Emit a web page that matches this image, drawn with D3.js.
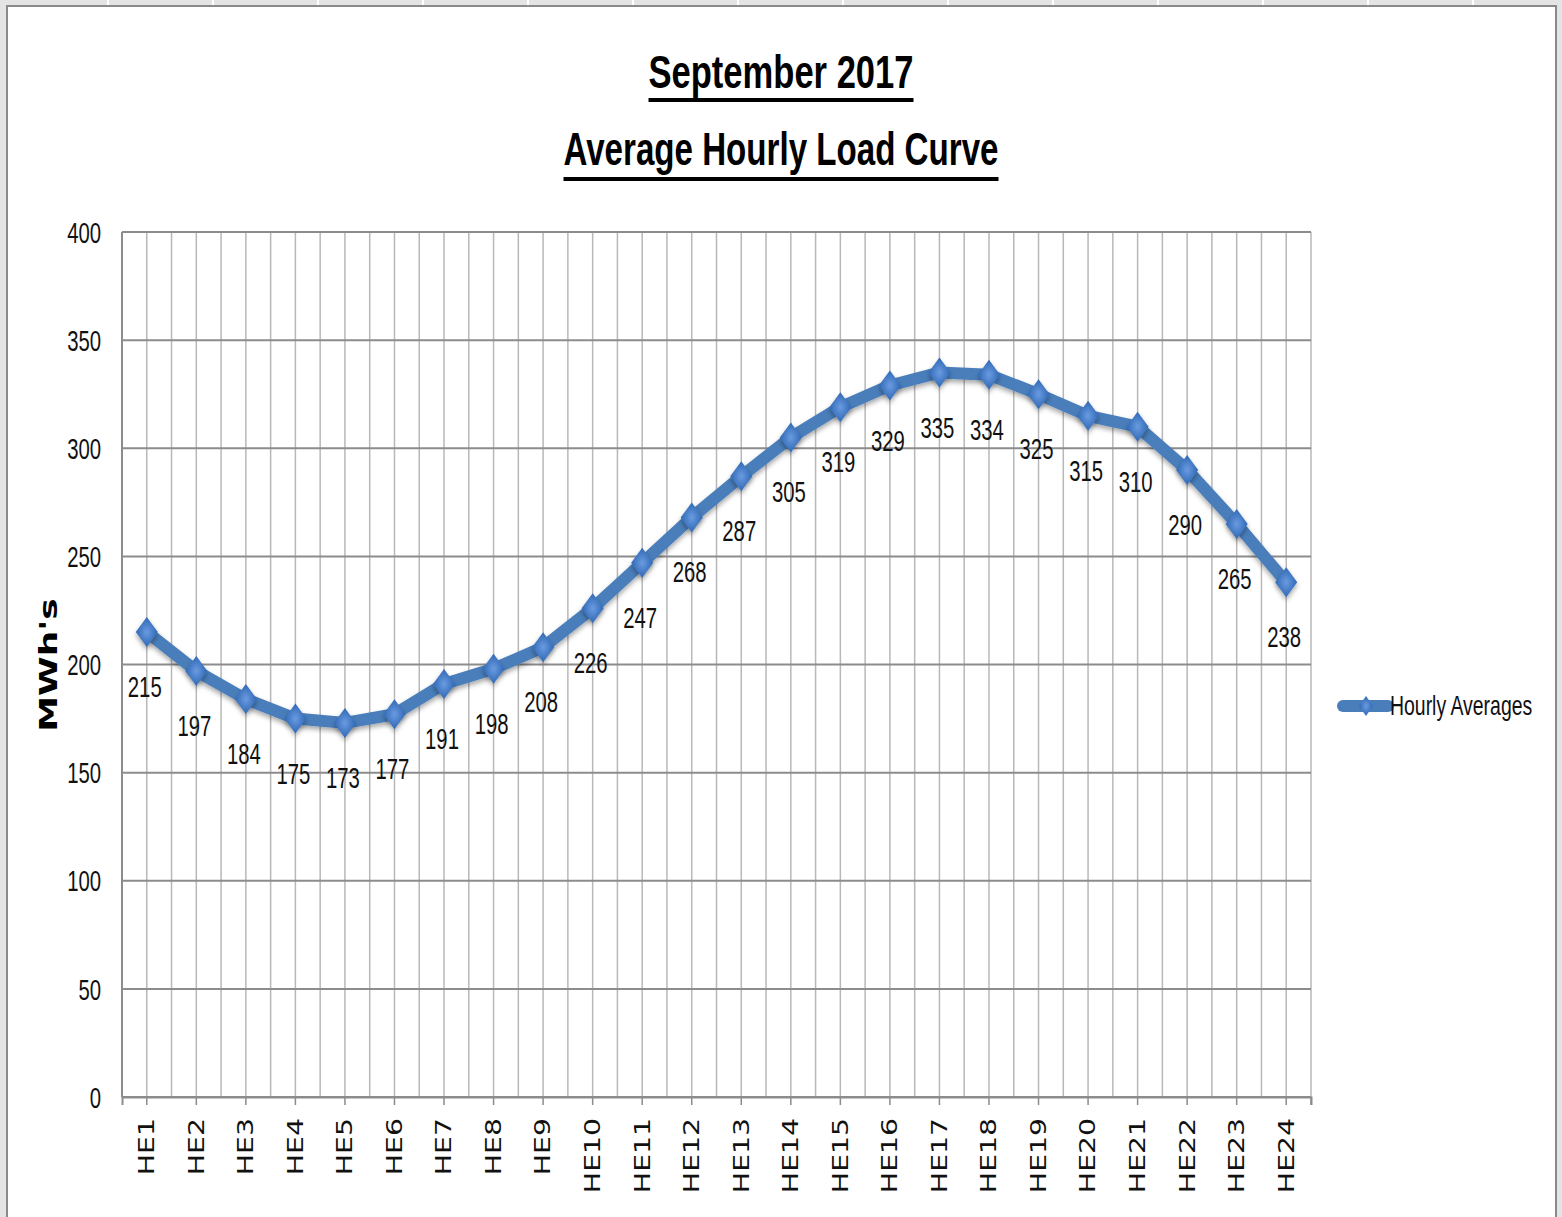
<!DOCTYPE html>
<html>
<head>
<meta charset="utf-8">
<script src="https://cdn.jsdelivr.net/npm/d3@7"></script>
<style>
  body { margin: 0; background: #e6e6e6; }
</style>
</head>
<body>
<div id="my_dataviz"></div>
<script>
// chart data
var hours = ["HE1","HE2","HE3","HE4","HE5","HE6","HE7","HE8","HE9","HE10","HE11","HE12",
             "HE13","HE14","HE15","HE16","HE17","HE18","HE19","HE20","HE21","HE22","HE23","HE24"];
var loads = [215,197,184,175,173,177,191,198,208,226,247,268,287,305,319,329,335,334,325,315,310,290,265,238];
var yTicks = [0,50,100,150,200,250,300,350,400];
var seriesName = "Hourly Averages";

var W = 1562, H = 1217;
var margin = {top: 232, left: 122, right: 251, bottom: 120};
var width = W - margin.left - margin.right,   // 1189
    height = 1097 - margin.top;               // 865

var narrowFont = "'Liberation Sans', Arial, sans-serif";

// stretch/squeeze text along its run (no narrow font installed)
function squeeze(sel, k) {
  sel.each(function() {
    var w = this.getComputedTextLength();
    d3.select(this).attr("textLength", w * k).attr("lengthAdjust", "spacingAndGlyphs");
  });
}

var root = d3.select("#my_dataviz")
  .append("svg")
    .attr("width", W)
    .attr("height", H)
    .style("display", "block");

// drop shadow + marker gradient
var defs = root.append("defs");
var f = defs.append("filter").attr("id", "shadow")
  .attr("x", "-50%").attr("y", "-50%").attr("width", "200%").attr("height", "200%");
f.append("feDropShadow").attr("dx", 0).attr("dy", 3).attr("stdDeviation", 2.5)
  .attr("flood-color", "#000").attr("flood-opacity", 0.35);
var g1 = defs.append("radialGradient").attr("id", "diam");
g1.append("stop").attr("offset", "0%").attr("stop-color", "#6a9be0");
g1.append("stop").attr("offset", "100%").attr("stop-color", "#2f68b5");

// spreadsheet-ish background cells
root.append("rect").attr("width", W).attr("height", H).attr("fill", "#e4e4e4");
[108, 213, 318, 423, 528, 633, 738, 843, 948, 1053, 1158, 1263, 1368, 1473].forEach(function(x) {
  root.append("line").attr("x1", x).attr("x2", x).attr("y1", 0).attr("y2", 6)
    .attr("stroke", "#fff").attr("stroke-width", 2);
});
// chart area
root.append("rect")
  .attr("x", 7).attr("y", 6).attr("width", 1549).attr("height", H)
  .attr("fill", "#fff").attr("stroke", "#8a8a8a").attr("stroke-width", 2);

var svg = root.append("g")
  .attr("transform", "translate(" + margin.left + "," + margin.top + ")");

var x = d3.scaleBand().domain(hours).range([0, width]);
var y = d3.scaleLinear().domain([0, 400]).range([height, 0]);
var cx = function(d) { return x(d) + x.bandwidth() / 2; };

// vertical gridlines (half-category steps)
var vlines = [];
hours.forEach(function(h) { vlines.push(x(h)); vlines.push(cx(h)); });
vlines.push(width);
svg.append("g").selectAll("line").data(vlines).join("line")
  .attr("x1", function(d) { return d; }).attr("x2", function(d) { return d; })
  .attr("y1", 0).attr("y2", height)
  .attr("stroke", "#b8b8b8").attr("stroke-width", 1.5);

// horizontal gridlines
svg.append("g").selectAll("line").data(yTicks).join("line")
  .attr("x1", 0).attr("x2", width)
  .attr("y1", function(d) { return y(d); }).attr("y2", function(d) { return y(d); })
  .attr("stroke", "#8c8c8c").attr("stroke-width", 2);

// left axis line
svg.append("line").attr("x1", 0).attr("x2", 0).attr("y1", 0).attr("y2", height)
  .attr("stroke", "#8c8c8c").attr("stroke-width", 2);

// y axis labels
var yAxis = svg.append("g")
  .call(d3.axisLeft(y).tickValues(yTicks).tickSize(0).tickPadding(21));
yAxis.select(".domain").remove();
yAxis.selectAll("text")
  .style("font-size", "29px")
  .style("font-family", narrowFont)
  .attr("fill", "#111")
  .attr("dy", "0.35em")
  .call(squeeze, 0.7);

// x axis
var xAxis = svg.append("g")
  .attr("transform", "translate(0," + height + ")")
  .call(d3.axisBottom(x).tickSize(8).tickSizeOuter(8));
xAxis.select(".domain").attr("stroke", "#8c8c8c").attr("stroke-width", 2);
xAxis.selectAll(".tick line").attr("stroke", "#8c8c8c").attr("stroke-width", 1.5);
xAxis.selectAll("text")
  .style("font-family", "'DejaVu Sans', sans-serif")
  .style("font-size", "20.5px")
  .attr("fill", "#111")
  .attr("text-anchor", "end")
  .attr("dy", "0.36em")
  .attr("transform", "rotate(-90) translate(-21,0)")
  .attr("x", 0).attr("y", 0)
  .call(squeeze, 1.38);
svg.append("line").attr("x1", width).attr("x2", width).attr("y1", height).attr("y2", height + 8)
  .attr("stroke", "#8c8c8c").attr("stroke-width", 1.5);

// the load curve
svg.append("path")
  .datum(loads)
  .attr("d", d3.line()
    .x(function(d, i) { return cx(hours[i]); })
    .y(function(d) { return y(d); }))
  .attr("fill", "none")
  .attr("stroke", "#4a7ebb")
  .attr("stroke-width", 12)
  .attr("stroke-linejoin", "round")
  .attr("filter", "url(#shadow)");

// diamond markers
var diamond = "M0,-15 L11,0 L0,15 L-11,0 Z";
svg.append("g").selectAll("path").data(loads).join("path")
  .attr("d", diamond)
  .attr("transform", function(d, i) { return "translate(" + cx(hours[i]) + "," + y(d) + ")"; })
  .attr("fill", "url(#diam)")
  .attr("filter", "url(#shadow)");

// data labels below points
svg.append("g").selectAll("text").data(loads).join("text")
  .attr("x", function(d, i) { return cx(hours[i]) - 2; })
  .attr("y", function(d) { return y(d) + 65; })
  .attr("text-anchor", "middle")
  .style("font-family", narrowFont)
  .style("font-size", "29px")
  .attr("fill", "#111")
  .text(function(d) { return d; })
  .call(squeeze, 0.7);

// y axis title
root.append("text")
  .attr("transform", "translate(57,665) rotate(-90)")
  .attr("text-anchor", "middle")
  .style("font-family", "'DejaVu Sans', sans-serif")
  .style("font-weight", "bold")
  .style("font-size", "25px")
  .text("MWh's")
  .call(squeeze, 1.44);

// title, two underlined lines
var titles = [["September 2017", 88, 265, 98], ["Average Hourly Load Curve", 165, 435, 177]];
titles.forEach(function(t) {
  root.append("text")
    .attr("x", 781).attr("y", t[1])
    .attr("text-anchor", "middle")
    .style("font-family", narrowFont)
    .style("font-weight", "bold")
    .style("font-size", "46px")
    .attr("textLength", t[2])
    .attr("lengthAdjust", "spacingAndGlyphs")
    .text(t[0]);
  root.append("rect")
    .attr("x", 781 - t[2] / 2).attr("y", t[3])
    .attr("width", t[2]).attr("height", 4)
    .attr("fill", "#000");
});

// legend
var leg = root.append("g").attr("transform", "translate(1343,706)");
leg.append("line").attr("x1", 0).attr("x2", 45).attr("y1", 0).attr("y2", 0)
  .attr("stroke", "#4a7ebb").attr("stroke-width", 12).attr("stroke-linecap", "round");
leg.append("path").attr("d", "M0,-10 L7,0 L0,10 L-7,0 Z")
  .attr("transform", "translate(23,0)").attr("fill", "url(#diam)");
leg.append("text")
  .attr("transform", "translate(47,9) scale(0.72,1)")
  .style("font-family", narrowFont)
  .style("font-size", "27px")
  .attr("fill", "#111")
  .text(seriesName);
</script>
</body>
</html>
